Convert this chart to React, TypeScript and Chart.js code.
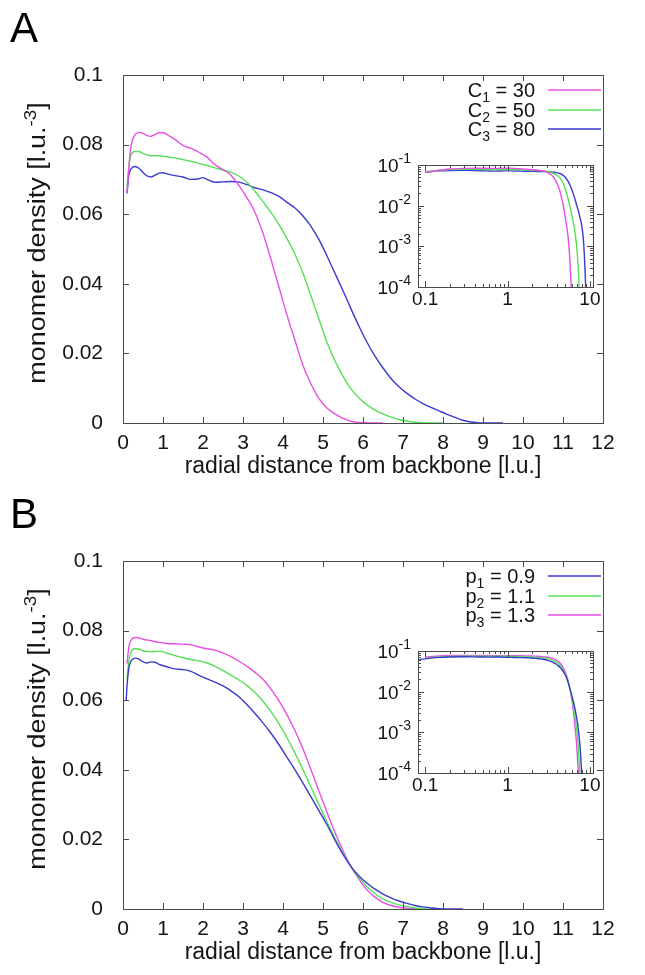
import React, { useEffect, useRef } from "react";
import { Chart, registerables } from "chart.js";

Chart.register(...registerables);

// ---------------- data ----------------
const xTickValues = [0, 1, 2, 3, 4, 5, 6, 7, 8, 9, 10, 11, 12];
const xTickLabels = ["0", "1", "2", "3", "4", "5", "6", "7", "8", "9", "10", "11", "12"];
const yTickValues = [0, 0.02, 0.04, 0.06, 0.08, 0.1];
const yTickLabels = ["0", "0.02", "0.04", "0.06", "0.08", "0.1"];
const insetXTicks = [0.1, 1, 10];
const insetXLabels = ["0.1", "1", "10"];
const insetYTicks = [1e-4, 1e-3, 1e-2, 1e-1];
const insetYExponents = ["-4", "-3", "-2", "-1"];

const xTitle = "radial distance from backbone [l.u.]";
const yTitleMain = "monomer density [l.u.";
const yTitleSup = "-3";
const yTitleEnd = "]";

// Panel A: C1 = 30 (magenta)
const rA1 = [0.1, 0.15, 0.2, 0.3, 0.4, 0.5, 0.6, 0.7, 0.8, 0.9, 1.0, 1.1, 1.3, 1.5, 1.7, 1.9, 2.1, 2.3, 2.5, 2.7, 2.9, 3.1, 3.3, 3.5, 3.7, 3.9, 4.1, 4.3, 4.5, 4.7, 4.9, 5.1, 5.3, 5.5, 5.7, 5.85, 6.0, 6.5];
const dA1 = [0.066, 0.074, 0.0795, 0.0828, 0.0835, 0.0832, 0.0826, 0.0824, 0.0829, 0.0834, 0.0834, 0.0829, 0.0815, 0.0798, 0.0789, 0.0778, 0.0764, 0.0742, 0.0728, 0.0712, 0.0682, 0.0647, 0.0605, 0.0545, 0.047, 0.039, 0.031, 0.0237, 0.0165, 0.0112, 0.007, 0.0043, 0.0026, 0.0013, 0.0005, 0.00018, 0.00006, 0.00001];
// Panel A: C2 = 50 (green)
const rA2 = [0.1, 0.15, 0.2, 0.3, 0.4, 0.5, 0.7, 0.9, 1.1, 1.3, 1.5, 1.7, 1.9, 2.1, 2.3, 2.5, 2.7, 2.9, 3.1, 3.3, 3.5, 3.7, 3.9, 4.1, 4.3, 4.5, 4.7, 4.9, 5.1, 5.3, 5.5, 5.7, 5.9, 6.1, 6.3, 6.5, 6.7, 6.9, 7.1, 7.3, 7.5, 8.0];
const dA2 = [0.068, 0.074, 0.077, 0.078, 0.078, 0.0775, 0.0768, 0.0768, 0.0765, 0.0762, 0.0757, 0.0752, 0.0746, 0.074, 0.0733, 0.0727, 0.072, 0.0709, 0.0692, 0.0666, 0.0636, 0.0605, 0.057, 0.053, 0.0485, 0.043, 0.0365, 0.0298, 0.0232, 0.0178, 0.0134, 0.0098, 0.0072, 0.0052, 0.0037, 0.0026, 0.0017, 0.001, 0.0005, 0.0002, 0.00006, 0.00001];
// Panel A: C3 = 80 (blue)
const rA3 = [0.1, 0.15, 0.2, 0.3, 0.4, 0.5, 0.6, 0.7, 0.8, 0.9, 1.0, 1.1, 1.3, 1.5, 1.7, 1.9, 2.0, 2.1, 2.3, 2.5, 2.7, 2.9, 3.1, 3.3, 3.5, 3.7, 3.9, 4.1, 4.3, 4.5, 4.7, 4.9, 5.1, 5.3, 5.5, 5.7, 5.9, 6.1, 6.3, 6.5, 6.7, 6.9, 7.1, 7.3, 7.5, 7.7, 7.9, 8.1, 8.3, 8.5, 8.7, 8.85, 9.0, 9.5];
const dA3 = [0.066, 0.0715, 0.073, 0.0737, 0.0732, 0.072, 0.071, 0.0707, 0.0712, 0.0718, 0.0719, 0.0716, 0.0711, 0.0707, 0.07, 0.0702, 0.0705, 0.07, 0.0692, 0.0693, 0.0694, 0.0692, 0.0685, 0.0676, 0.067, 0.0662, 0.0651, 0.0634, 0.0618, 0.0595, 0.0565, 0.0527, 0.048, 0.043, 0.038, 0.0328, 0.0278, 0.0232, 0.0192, 0.0158, 0.0128, 0.0104, 0.0085, 0.0069, 0.0056, 0.0045, 0.0035, 0.0025, 0.0016, 0.0008, 0.0003, 0.00012, 0.00004, 0.00001];

// Panel B: p1 = 0.9 (blue)
const rB1 = [0.08, 0.1, 0.15, 0.2, 0.3, 0.4, 0.5, 0.6, 0.7, 0.8, 0.9, 1.1, 1.3, 1.5, 1.7, 1.9, 2.1, 2.3, 2.5, 2.7, 2.9, 3.1, 3.3, 3.5, 3.7, 3.9, 4.1, 4.3, 4.5, 4.7, 4.9, 5.1, 5.3, 5.5, 5.7, 5.9, 6.1, 6.3, 6.5, 6.7, 6.9, 7.1, 7.3, 7.5, 7.7, 7.9, 8.1, 8.5];
const dB1 = [0.06, 0.064, 0.0695, 0.0712, 0.0721, 0.0718, 0.071, 0.0707, 0.071, 0.0709, 0.0703, 0.0696, 0.069, 0.0688, 0.0683, 0.0671, 0.0661, 0.0652, 0.0641, 0.0627, 0.061, 0.0587, 0.0562, 0.0535, 0.0505, 0.0472, 0.0436, 0.04, 0.0362, 0.0322, 0.0282, 0.0242, 0.0198, 0.0157, 0.0122, 0.0095, 0.0074, 0.0057, 0.0043, 0.0032, 0.0023, 0.0016, 0.001, 0.0006, 0.0003, 0.00012, 0.00004, 0.00001];
// Panel B: p2 = 1.1 (green)
const rB2 = [0.1, 0.15, 0.2, 0.3, 0.4, 0.5, 0.7, 0.9, 1.1, 1.3, 1.5, 1.7, 1.9, 2.1, 2.3, 2.5, 2.7, 2.9, 3.1, 3.3, 3.5, 3.7, 3.9, 4.1, 4.3, 4.5, 4.7, 4.9, 5.1, 5.3, 5.5, 5.7, 5.9, 6.1, 6.3, 6.5, 6.7, 6.9, 7.1, 7.3, 7.5, 7.7, 8.0];
const dB2 = [0.066, 0.0715, 0.0738, 0.0748, 0.0747, 0.0742, 0.0739, 0.0741, 0.0735, 0.0728, 0.0722, 0.0717, 0.0713, 0.0707, 0.0697, 0.0685, 0.0672, 0.0658, 0.0642, 0.0622, 0.0597, 0.0567, 0.0532, 0.0492, 0.0448, 0.04, 0.035, 0.03, 0.025, 0.0203, 0.016, 0.0122, 0.009, 0.0064, 0.0044, 0.0029, 0.0019, 0.0012, 0.0007, 0.0003, 0.00012, 0.00004, 0.00001];
// Panel B: p3 = 1.3 (magenta)
const rB3 = [0.1, 0.15, 0.2, 0.3, 0.4, 0.5, 0.7, 0.9, 1.1, 1.3, 1.5, 1.7, 1.9, 2.1, 2.3, 2.5, 2.7, 2.9, 3.1, 3.3, 3.5, 3.7, 3.9, 4.1, 4.3, 4.5, 4.7, 4.9, 5.1, 5.3, 5.5, 5.7, 5.9, 6.1, 6.3, 6.5, 6.7, 6.9, 7.1, 7.3, 7.6];
const dB3 = [0.0705, 0.0755, 0.0772, 0.078, 0.0779, 0.0775, 0.0771, 0.0766, 0.0763, 0.0762, 0.0761, 0.0759, 0.0753, 0.0748, 0.0744, 0.0736, 0.0725, 0.0712, 0.0697, 0.068, 0.066, 0.0632, 0.0598, 0.0558, 0.0512, 0.046, 0.04, 0.0338, 0.0278, 0.022, 0.0168, 0.0122, 0.0085, 0.0055, 0.0034, 0.0019, 0.001, 0.0005, 0.0002, 0.00008, 0.00002];

const legendA = [["C", "1", " = 30"], ["C", "2", " = 50"], ["C", "3", " = 80"]];
const legendB = [["p", "1", " = 0.9"], ["p", "2", " = 1.1"], ["p", "3", " = 1.3"]];

// ---------------- styles ----------------
const FONT = '"Liberation Sans", Arial, Helvetica, sans-serif';
const TEXT = "#151515";
const AXIS = "#4a4a4a";
const MAGENTA = "#e64fe6";
const GREEN = "#55e055";
const BLUE = "#3a3acf";

type Series = { r: number[]; d: number[]; color: string };

const seriesA: Series[] = [
  { r: rA1, d: dA1, color: MAGENTA },
  { r: rA2, d: dA2, color: GREEN },
  { r: rA3, d: dA3, color: BLUE },
];
const seriesB: Series[] = [
  { r: rB1, d: dB1, color: BLUE },
  { r: rB2, d: dB2, color: GREEN },
  { r: rB3, d: dB3, color: MAGENTA },
];

function toDatasets(series: Series[]) {
  return series.map((s) => ({
    data: s.r.map((r, i) => ({ x: r, y: s.d[i] })),
    borderColor: s.color,
    borderWidth: 1.4,
    pointRadius: 0,
    fill: false,
    cubicInterpolationMode: "monotone" as const,
  }));
}

const crisp = (v: number) => Math.round(v) + 0.5;

function drawSupText(
  ctx: CanvasRenderingContext2D,
  parts: { t: string; size: number; dy: number }[],
  x: number,
  y: number,
  align: "left" | "right" | "center"
) {
  let total = 0;
  const widths = parts.map((p) => {
    ctx.font = `${p.size}px ${FONT}`;
    const w = ctx.measureText(p.t).width;
    total += w;
    return w;
  });
  let cx = align === "left" ? x : align === "right" ? x - total : x - total / 2;
  ctx.textAlign = "left";
  parts.forEach((p, i) => {
    ctx.font = `${p.size}px ${FONT}`;
    ctx.fillText(p.t, cx, y + p.dy);
    cx += widths[i];
  });
}

function mainConfig(series: Series[], legend: string[][], letter: string, canvasH: number) {
  const decor = {
    id: "decor",
    afterDraw(chart: any) {
      const ctx: CanvasRenderingContext2D = chart.ctx;
      const { left, right, top, bottom } = chart.chartArea;
      const xs = chart.scales.x;
      const ys = chart.scales.y;
      ctx.save();
      ctx.strokeStyle = AXIS;
      ctx.lineWidth = 1;
      ctx.strokeRect(crisp(left), crisp(top), Math.round(right - left), Math.round(bottom - top));
      ctx.beginPath();
      xTickValues.forEach((v) => {
        const px = crisp(xs.getPixelForValue(v));
        ctx.moveTo(px, bottom);
        ctx.lineTo(px, bottom - 6);
        ctx.moveTo(px, top);
        ctx.lineTo(px, top + 6);
      });
      yTickValues.forEach((v) => {
        const py = crisp(ys.getPixelForValue(v));
        ctx.moveTo(left, py);
        ctx.lineTo(left + 6, py);
        ctx.moveTo(right, py);
        ctx.lineTo(right - 6, py);
      });
      ctx.stroke();

      ctx.fillStyle = TEXT;
      ctx.textBaseline = "alphabetic";
      // x tick labels
      ctx.font = `21px ${FONT}`;
      ctx.textAlign = "center";
      xTickValues.forEach((v, i) => {
        ctx.fillText(xTickLabels[i], xs.getPixelForValue(v), bottom + 26);
      });
      // x title
      ctx.font = `23px ${FONT}`;
      ctx.textAlign = "center";
      ctx.fillText(xTitle, (left + right) / 2, bottom + 50);
      // y title (rotated)
      ctx.save();
      ctx.translate(45, (top + bottom) / 2 - 6);
      ctx.rotate(-Math.PI / 2);
      ctx.scale(1.17, 1);
      drawSupText(
        ctx,
        [
          { t: yTitleMain, size: 23, dy: 0 },
          { t: yTitleSup, size: 16, dy: -9 },
          { t: yTitleEnd, size: 23, dy: 0 },
        ],
        0,
        0,
        "center"
      );
      ctx.restore();

      // legend
      const rowY = [top + 15, top + 35, top + 54];
      legend.forEach((item, i) => {
        const y = rowY[i];
        ctx.fillStyle = TEXT;
        drawSupText(
          ctx,
          [
            { t: item[0], size: 20, dy: 7 },
            { t: item[1], size: 14, dy: 12 },
            { t: item[2], size: 20, dy: 7 },
          ],
          right - 68,
          y,
          "right"
        );
        ctx.strokeStyle = series[i].color;
        ctx.lineWidth = 1.4;
        ctx.beginPath();
        ctx.moveTo(right - 55, y);
        ctx.lineTo(right - 2, y);
        ctx.stroke();
      });

      // panel letter
      ctx.fillStyle = "#000";
      ctx.font = `42px ${FONT}`;
      ctx.textAlign = "left";
      ctx.fillText(letter, 10, 42);
      ctx.restore();
    },
  };

  return {
    type: "line",
    data: { datasets: toDatasets(series) },
    options: {
      responsive: false,
      maintainAspectRatio: false,
      animation: false,
      events: [],
      layout: { padding: { left: 0, right: 42, top: 75, bottom: 0 } },
      plugins: { legend: { display: false }, tooltip: { enabled: false }, title: { display: false } },
      scales: {
        x: {
          type: "linear",
          min: 0,
          max: 12,
          afterBuildTicks: (s: any) => {
            s.ticks = xTickValues.map((v) => ({ value: v }));
          },
          afterFit: (s: any) => {
            s.height = canvasH - 423;
          },
          grid: { display: false },
          border: { display: false },
          ticks: { display: false },
        },
        y: {
          type: "linear",
          min: 0,
          max: 0.1,
          afterBuildTicks: (s: any) => {
            s.ticks = yTickValues.map((v) => ({ value: v }));
          },
          afterFit: (s: any) => {
            s.width = 123;
          },
          grid: { display: false },
          border: { display: false },
          ticks: {
            color: TEXT,
            font: { family: FONT, size: 21 },
            padding: 12,
            autoSkip: false,
            callback: (_v: number, i: number) => yTickLabels[i],
          },
        },
      },
    },
    plugins: [decor],
  };
}

function insetConfig(series: Series[]) {
  const decor = {
    id: "insetDecor",
    afterDraw(chart: any) {
      const ctx: CanvasRenderingContext2D = chart.ctx;
      const { left, right, top, bottom } = chart.chartArea;
      const xs = chart.scales.x;
      const ys = chart.scales.y;
      ctx.save();
      ctx.strokeStyle = AXIS;
      ctx.lineWidth = 1;
      ctx.strokeRect(crisp(left), crisp(top), Math.round(right - left), Math.round(bottom - top));
      ctx.beginPath();
      [0.1, 1, 10].forEach((dec) => {
        for (let k = 1; k <= 9; k++) {
          const v = dec * k;
          if (v < xs.min || v > xs.max) continue;
          const len = k === 1 ? 6 : 3;
          const px = crisp(xs.getPixelForValue(v));
          ctx.moveTo(px, bottom);
          ctx.lineTo(px, bottom - len);
          ctx.moveTo(px, top);
          ctx.lineTo(px, top + len);
        }
      });
      [1e-4, 1e-3, 1e-2, 1e-1].forEach((dec) => {
        for (let k = 1; k <= 9; k++) {
          const v = dec * k;
          if (v < ys.min * 0.999 || v > ys.max * 1.001) continue;
          const len = k === 1 ? 6 : 3;
          const py = crisp(ys.getPixelForValue(v));
          ctx.moveTo(left, py);
          ctx.lineTo(left + len, py);
          ctx.moveTo(right, py);
          ctx.lineTo(right - len, py);
        }
      });
      ctx.stroke();
      ctx.fillStyle = TEXT;
      ctx.textBaseline = "alphabetic";
      // x labels
      ctx.font = `19px ${FONT}`;
      ctx.textAlign = "center";
      insetXTicks.forEach((v, i) => {
        ctx.fillText(insetXLabels[i], xs.getPixelForValue(v), bottom + 18);
      });
      // y labels 10^n
      insetYTicks.forEach((v, i) => {
        const py = ys.getPixelForValue(v);
        drawSupText(
          ctx,
          [
            { t: "10", size: 19, dy: 7 },
            { t: insetYExponents[i], size: 14, dy: -2 },
          ],
          left - 7,
          py,
          "right"
        );
      });
      ctx.restore();
    },
  };
  return {
    type: "line",
    data: { datasets: toDatasets(series) },
    options: {
      responsive: false,
      maintainAspectRatio: false,
      animation: false,
      events: [],
      layout: { padding: { left: 0, right: 27, top: 25, bottom: 0 } },
      plugins: { legend: { display: false }, tooltip: { enabled: false }, title: { display: false } },
      scales: {
        x: {
          type: "logarithmic",
          min: 0.082,
          max: 10.9,
          afterBuildTicks: (s: any) => {
            s.ticks = insetXTicks.map((v) => ({ value: v }));
          },
          afterFit: (s: any) => {
            s.height = 38;
          },
          grid: { display: false },
          border: { display: false },
          ticks: { display: false },
        },
        y: {
          type: "logarithmic",
          min: 1e-4,
          max: 1e-1,
          afterBuildTicks: (s: any) => {
            s.ticks = insetYTicks.map((v) => ({ value: v }));
          },
          afterFit: (s: any) => {
            s.width = 78;
          },
          grid: { display: false },
          border: { display: false },
          ticks: { display: false },
        },
      },
    },
    plugins: [decor],
  };
}

function ChartCanvas({ config, left, top, width, height }: any) {
  const ref = useRef<HTMLCanvasElement | null>(null);
  useEffect(() => {
    if (!ref.current) return;
    const chart = new Chart(ref.current, config);
    return () => chart.destroy();
  }, [config]);
  return (
    <canvas
      ref={ref}
      width={width}
      height={height}
      style={{ position: "absolute", left, top, width, height }}
    />
  );
}

const cfgMainA = mainConfig(seriesA, legendA, "A", 486);
const cfgInsetA = insetConfig(seriesA);
const cfgMainB = mainConfig(seriesB, legendB, "B", 489);
const cfgInsetB = insetConfig(seriesB);

export default function App() {
  return (
    <div style={{ position: "absolute", left: 0, top: 0, width: 645, height: 975, background: "#fff" }}>
      <ChartCanvas config={cfgMainA} left={0} top={0} width={645} height={486} />
      <ChartCanvas config={cfgInsetA} left={340} top={140} width={280} height={185} />
      <ChartCanvas config={cfgMainB} left={0} top={486} width={645} height={489} />
      <ChartCanvas config={cfgInsetB} left={340} top={626} width={280} height={185} />
    </div>
  );
}
